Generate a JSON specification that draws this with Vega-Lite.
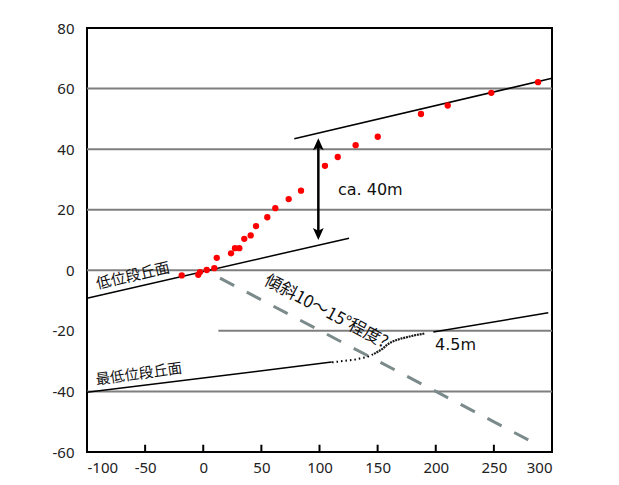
{
  "$schema": "https://vega.github.io/schema/vega-lite/v6.json",
  "width": 465,
  "height": 424,
  "autosize": "none",
  "padding": {"left": 87, "top": 28, "right": 67, "bottom": 33},
  "background": "white",
  "config": {
    "view": {"stroke": "black", "strokeWidth": 2},
    "font": "Noto Sans CJK JP"
  },
  "datasets": {
    "grid": [
      {"y": 60, "x": -100, "x2": 300},
      {"y": 40, "x": -100, "x2": 300},
      {"y": 20, "x": -100, "x2": 300},
      {"y": 0, "x": -100, "x2": 300},
      {"y": -20, "x": 13, "x2": 300},
      {"y": -40, "x": -100, "x2": 300}
    ],
    "ticks": [
      {"x": -50, "y": -60, "y2": -57.6},
      {"x": 0, "y": -60, "y2": -57.6},
      {"x": 50, "y": -60, "y2": -57.6},
      {"x": 100, "y": -60, "y2": -57.6},
      {"x": 150, "y": -60, "y2": -57.6},
      {"x": 200, "y": -60, "y2": -57.6},
      {"x": 250, "y": -60, "y2": -57.6}
    ],
    "terraces": [
      {"series": "upper", "x": 78.3, "y": 43.4},
      {"series": "upper", "x": 300, "y": 63.4},
      {"series": "low", "x": -100, "y": -9.2},
      {"series": "low", "x": 125.4, "y": 10.6},
      {"series": "lowest", "x": -100, "y": -40.3},
      {"series": "lowest", "x": 110.5, "y": -30.3},
      {"series": "right", "x": 197.9, "y": -20.4},
      {"series": "right", "x": 296.8, "y": -14.0}
    ],
    "sparse": [
      {"x": 110.8, "y": -30.4},
      {"x": 117.6, "y": -30.1},
      {"x": 123.4, "y": -29.8},
      {"x": 129.1, "y": -29.6},
      {"x": 134.8, "y": -29.1},
      {"x": 140.6, "y": -28.7},
      {"x": 146.9, "y": -27.6}
    ],
    "dense": [
      {"x": 146.9, "y": -27.6},
      {"x": 150.6, "y": -26.8},
      {"x": 154.4, "y": -25.9},
      {"x": 157.2, "y": -24.9},
      {"x": 160.0, "y": -24.1},
      {"x": 163.0, "y": -23.5},
      {"x": 166.4, "y": -23.0},
      {"x": 170.7, "y": -22.5},
      {"x": 175.0, "y": -22.1},
      {"x": 179.3, "y": -21.7},
      {"x": 183.6, "y": -21.3},
      {"x": 187.9, "y": -21.1},
      {"x": 190.8, "y": -20.8}
    ],
    "slope": [
      {"x": 14.4, "y": -2.6},
      {"x": 279.6, "y": -56.0}
    ],
    "dots": [
      {"x": -18.5, "y": -1.7},
      {"x": -4.3, "y": -1.5},
      {"x": -2.8, "y": -0.6},
      {"x": 3.0, "y": 0.1},
      {"x": 9.5, "y": 0.7},
      {"x": 11.6, "y": 4.1},
      {"x": 23.9, "y": 5.6},
      {"x": 27.3, "y": 7.3},
      {"x": 31.0, "y": 7.3},
      {"x": 35.3, "y": 10.4},
      {"x": 40.8, "y": 11.5},
      {"x": 45.4, "y": 14.6},
      {"x": 55.1, "y": 17.5},
      {"x": 62.0, "y": 20.5},
      {"x": 73.5, "y": 23.5},
      {"x": 84.1, "y": 26.3},
      {"x": 104.7, "y": 34.5},
      {"x": 115.7, "y": 37.4},
      {"x": 131.1, "y": 41.3},
      {"x": 150.1, "y": 44.1},
      {"x": 187.3, "y": 51.6},
      {"x": 210.3, "y": 54.4},
      {"x": 247.8, "y": 58.6},
      {"x": 288.0, "y": 62.1}
    ]
  },
  "layer": [
    {
      "data": {"name": "grid"},
      "mark": {"type": "rule", "color": "#7f7f7f", "strokeWidth": 2},
      "encoding": {
        "y": {
          "field": "y",
          "type": "quantitative",
          "scale": {"domain": [-60, 80], "nice": false},
          "axis": {
            "values": [-60, -40, -20, 0, 20, 40, 60, 80],
            "labelExpr": "'' + datum.value",
            "ticks": false,
            "domain": false,
            "grid": false,
            "labelPadding": 13,
            "labelFontSize": 15,
            "labelColor": "#222222",
            "labelFont": "Noto Sans",
            "title": null
          }
        },
        "x": {
          "field": "x",
          "type": "quantitative",
          "scale": {"domain": [-100, 300], "nice": false},
          "axis": {
            "values": [-100, -50, 0, 50, 100, 150, 200, 250, 300],
            "labelExpr": "'' + datum.value",
            "ticks": false,
            "domain": false,
            "grid": false,
            "labelPadding": 8,
            "labelFontSize": 15,
            "labelColor": "#222222",
            "labelFont": "Noto Sans",
            "title": null
          }
        },
        "x2": {"field": "x2"}
      }
    },
    {
      "data": {"name": "ticks"},
      "mark": {"type": "rule", "color": "black", "strokeWidth": 2},
      "encoding": {
        "x": {"field": "x", "type": "quantitative"},
        "y": {"field": "y", "type": "quantitative"},
        "y2": {"field": "y2"}
      }
    },
    {
      "data": {"name": "slope"},
      "mark": {"type": "line", "color": "#7b8a8a", "strokeWidth": 3, "strokeDash": [16, 14.2]},
      "encoding": {
        "x": {"field": "x", "type": "quantitative"},
        "y": {"field": "y", "type": "quantitative"}
      }
    },
    {
      "data": {"name": "terraces"},
      "mark": {"type": "line", "color": "black", "strokeWidth": 1.5},
      "encoding": {
        "x": {"field": "x", "type": "quantitative"},
        "y": {"field": "y", "type": "quantitative"},
        "detail": {"field": "series"}
      }
    },
    {
      "data": {"name": "sparse"},
      "mark": {"type": "line", "color": "black", "strokeWidth": 2, "strokeDash": [1.5, 3]},
      "encoding": {
        "x": {"field": "x", "type": "quantitative"},
        "y": {"field": "y", "type": "quantitative"}
      }
    },
    {
      "data": {"name": "dense"},
      "mark": {"type": "line", "color": "#1a1a1a", "strokeWidth": 2.2, "strokeDash": [2, 0.8]},
      "encoding": {
        "x": {"field": "x", "type": "quantitative"},
        "y": {"field": "y", "type": "quantitative"}
      }
    },
    {
      "data": {"name": "dots"},
      "mark": {"type": "circle", "color": "#ff0000", "size": 40, "opacity": 1},
      "encoding": {
        "x": {"field": "x", "type": "quantitative"},
        "y": {"field": "y", "type": "quantitative"}
      }
    },
    {
      "data": {"values": [{"x": 99, "y": 42.5, "y2": 11}]},
      "mark": {"type": "rule", "color": "black", "strokeWidth": 2.5},
      "encoding": {
        "x": {"field": "x", "type": "quantitative"},
        "y": {"field": "y", "type": "quantitative"},
        "y2": {"field": "y2"}
      }
    },
    {
      "data": {"values": [{"x": 99, "y": 41.6}]},
      "mark": {"type": "point", "shape": "M0,-1L0.9,1L0,0.55L-0.9,1Z", "filled": true, "color": "black", "size": 144, "opacity": 1},
      "encoding": {
        "x": {"field": "x", "type": "quantitative"},
        "y": {"field": "y", "type": "quantitative"}
      }
    },
    {
      "data": {"values": [{"x": 99, "y": 12.0}]},
      "mark": {"type": "point", "shape": "M0,1L0.9,-1L0,-0.55L-0.9,-1Z", "filled": true, "color": "black", "size": 144, "opacity": 1},
      "encoding": {
        "x": {"field": "x", "type": "quantitative"},
        "y": {"field": "y", "type": "quantitative"}
      }
    },
    {
      "data": {"values": [{"x": 115.9, "y": 26.5, "label": "ca. 40m"}]},
      "mark": {"type": "text", "align": "left", "baseline": "middle", "fontSize": 16, "color": "#111111", "font": "DejaVu Sans"},
      "encoding": {
        "x": {"field": "x", "type": "quantitative"},
        "y": {"field": "y", "type": "quantitative"},
        "text": {"field": "label"}
      }
    },
    {
      "data": {"values": [{"x": 199.4, "y": -24.6, "label": "4.5m"}]},
      "mark": {"type": "text", "align": "left", "baseline": "middle", "fontSize": 16, "color": "#111111", "font": "DejaVu Sans"},
      "encoding": {
        "x": {"field": "x", "type": "quantitative"},
        "y": {"field": "y", "type": "quantitative"},
        "text": {"field": "label"}
      }
    },
    {
      "data": {"values": [{"x": -60.4, "y": -1.8, "label": "低位段丘面"}]},
      "mark": {"type": "text", "align": "center", "baseline": "middle", "fontSize": 15, "angle": -13, "color": "#111111"},
      "encoding": {
        "x": {"field": "x", "type": "quantitative"},
        "y": {"field": "y", "type": "quantitative"},
        "text": {"field": "label"}
      }
    },
    {
      "data": {"values": [{"x": -55.3, "y": -34.5, "label": "最低位段丘面"}]},
      "mark": {"type": "text", "align": "center", "baseline": "middle", "fontSize": 14.5, "angle": -8, "color": "#111111"},
      "encoding": {
        "x": {"field": "x", "type": "quantitative"},
        "y": {"field": "y", "type": "quantitative"},
        "text": {"field": "label"}
      }
    },
    {
      "data": {"values": [{"x": 105.6, "y": -13.7, "label": "傾斜10～15°程度?"}]},
      "mark": {"type": "text", "align": "center", "baseline": "middle", "fontSize": 17, "angle": 28, "color": "#111111"},
      "encoding": {
        "x": {"field": "x", "type": "quantitative"},
        "y": {"field": "y", "type": "quantitative"},
        "text": {"field": "label"}
      }
    }
  ]
}
